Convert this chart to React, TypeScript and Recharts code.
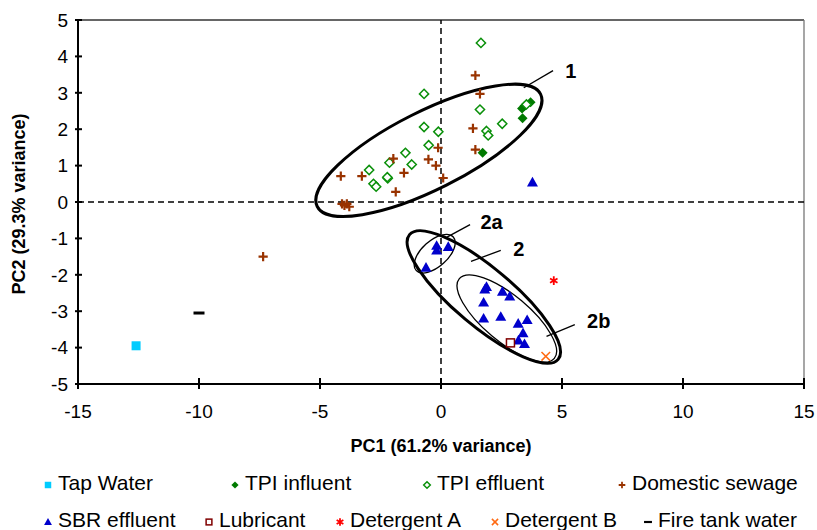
import { ScatterChart, Scatter, XAxis, YAxis, ReferenceLine, Legend } from 'recharts'

type Pt = { x: number; y: number }

const FONT = 'Liberation Sans, Arial, sans-serif'

// sample scores
const tapWater: Pt[] = [{ x: -12.6, y: -3.95 }]
const tpiInfluent: Pt[] = [
  { x: 3.7, y: 2.74 }, { x: 3.35, y: 2.57 }, { x: 3.45, y: 2.64 }, { x: 3.37, y: 2.3 }, { x: 1.72, y: 1.35 },
]
const tpiEffluent: Pt[] = [
  { x: 1.65, y: 4.37 }, { x: -0.7, y: 2.97 }, { x: 1.61, y: 2.54 }, { x: -0.7, y: 2.06 }, { x: -0.11, y: 1.93 },
  { x: 1.88, y: 1.95 }, { x: 1.95, y: 1.83 }, { x: 2.53, y: 2.15 }, { x: 3.53, y: 2.68 }, { x: -0.51, y: 1.56 },
  { x: -1.47, y: 1.35 }, { x: -1.21, y: 1.03 }, { x: -2.13, y: 1.08 }, { x: -2.97, y: 0.88 }, { x: -2.2, y: 0.65 },
  { x: -2.22, y: 0.68 }, { x: -2.79, y: 0.5 }, { x: -2.68, y: 0.42 },
]
const domesticSewage: Pt[] = [
  { x: 1.42, y: 3.48 }, { x: 1.61, y: 2.97 }, { x: 1.32, y: 2.02 }, { x: 1.42, y: 1.44 }, { x: -0.12, y: 1.49 },
  { x: -0.52, y: 1.17 }, { x: -0.21, y: 1.0 }, { x: 0.09, y: 0.66 }, { x: -1.53, y: 0.8 }, { x: -1.97, y: 1.19 },
  { x: -1.87, y: 0.28 }, { x: -3.27, y: 0.71 }, { x: -4.14, y: 0.71 }, { x: -4.09, y: -0.05 }, { x: -3.89, y: -0.05 },
  { x: -3.79, y: -0.13 }, { x: -3.99, y: -0.09 }, { x: -7.35, y: -1.5 },
]
const sbrEffluent: Pt[] = [
  { x: 3.78, y: 0.54 }, { x: -0.18, y: -1.2 }, { x: -0.18, y: -1.33 }, { x: 0.3, y: -1.23 }, { x: -0.62, y: -1.8 },
  { x: 1.88, y: -2.33 }, { x: 1.81, y: -2.4 }, { x: 2.54, y: -2.46 }, { x: 2.84, y: -2.59 }, { x: 1.76, y: -2.76 },
  { x: 1.76, y: -3.2 }, { x: 2.47, y: -3.15 }, { x: 3.19, y: -3.34 }, { x: 3.56, y: -3.24 }, { x: 3.39, y: -3.6 },
  { x: 3.2, y: -3.8 }, { x: 3.45, y: -3.9 },
]
const lubricant: Pt[] = [{ x: 2.87, y: -3.87 }]
const detergentA: Pt[] = [{ x: 4.66, y: -2.16 }]
const detergentB: Pt[] = [{ x: 4.33, y: -4.24 }]
const fireTankWater: Pt[] = [{ x: -10, y: -3.05 }]

const xTicks = [-15, -10, -5, 0, 5, 10, 15]
const yTicks = [5, 4, 3, 2, 1, 0, -1, -2, -3, -4, -5]

// cluster ellipses (centres in PC units) and their labels
const clusters = [
  { name: '1', x: -0.5, y: 1.42 },
  { name: '2', x: 1.77, y: -2.61 },
  { name: '2a', x: -0.26, y: -1.42 },
  { name: '2b', x: 2.72, y: -3.2 },
]
const clusterLabels = [
  { name: '1', x: 5.36, y: 3.61 },
  { name: '2a', x: 2.09, y: -0.54 },
  { name: '2', x: 3.22, y: -1.28 },
  { name: '2b', x: 6.52, y: -3.28 },
]
const leaders = [
  [{ x: 3.42, y: 3.14 }, { x: 4.63, y: 3.61 }],
  [{ x: 0.21, y: -0.98 }, { x: 1.2, y: -0.62 }],
  [{ x: 1.24, y: -1.63 }, { x: 2.47, y: -1.33 }],
  [{ x: 4.36, y: -3.69 }, { x: 5.53, y: -3.37 }],
]

const ellipseLook: Record<string, { rx: number; ry: number; angle: number; w: number }> = {
  '1': { rx: 125, ry: 39, angle: -26.7, w: 3 },
  '2': { rx: 97, ry: 29, angle: 40, w: 3 },
  '2a': { rx: 25, ry: 13, angle: -42, w: 1.3 },
  '2b': { rx: 62, ry: 23, angle: 40, w: 1.3 },
}

type Kind = 'tap' | 'tpiIn' | 'tpiEff' | 'sewage' | 'sbr' | 'lub' | 'detA' | 'detB' | 'fire'

function Marker({ kind, cx, cy, s = 1 }: { kind: Kind; cx: number; cy: number; s?: number }) {
  switch (kind) {
    case 'tap':
      return <rect x={cx - 4.5 * s} y={cy - 4.5 * s} width={9 * s} height={9 * s} fill="#00CCFF" />
    case 'tpiIn': {
      const r = 5 * s
      return <polygon points={`${cx},${cy - r} ${cx + r},${cy} ${cx},${cy + r} ${cx - r},${cy}`} fill="#007A00" />
    }
    case 'tpiEff': {
      const r = 4.6 * s
      return (
        <polygon
          points={`${cx},${cy - r} ${cx + r},${cy} ${cx},${cy + r} ${cx - r},${cy}`}
          fill="#fff"
          stroke="#0A900A"
          strokeWidth={1.5}
        />
      )
    }
    case 'sewage': {
      const r = 4.6 * s
      return (
        <path
          d={`M${cx - r},${cy} H${cx + r} M${cx},${cy - r} V${cy + r}`}
          stroke="#993300"
          strokeWidth={2.2 * Math.max(s, 0.8)}
        />
      )
    }
    case 'sbr': {
      const r = 5.5 * s
      return <polygon points={`${cx},${cy - r} ${cx + r},${cy + r * 0.75} ${cx - r},${cy + r * 0.75}`} fill="#0000CC" />
    }
    case 'lub':
      return (
        <rect x={cx - 4 * s} y={cy - 4 * s} width={8 * s} height={8 * s} fill="#fff" stroke="#800000" strokeWidth={1.5} />
      )
    case 'detA': {
      const r = 4.3 * Math.max(s, 0.9)
      const dx = r * 0.87
      const dy = r * 0.5
      return (
        <path
          d={`M${cx},${cy - r} V${cy + r} M${cx - dx},${cy - dy} L${cx + dx},${cy + dy} M${cx - dx},${cy + dy} L${cx + dx},${cy - dy}`}
          stroke="#FF0000"
          strokeWidth={1.8}
        />
      )
    }
    case 'detB': {
      const r = 4.3 * s
      return (
        <path
          d={`M${cx - r},${cy - r} L${cx + r},${cy + r} M${cx - r},${cy + r} L${cx + r},${cy - r}`}
          stroke="#FF6A13"
          strokeWidth={1.5}
        />
      )
    }
    case 'fire':
      return <rect x={cx - 5.5 * s} y={cy - 1.5 * s} width={11 * s} height={3 * s} fill="#000" />
  }
}

const series: { name: string; kind: Kind; data: Pt[] }[] = [
  { name: 'Tap Water', kind: 'tap', data: tapWater },
  { name: 'TPI influent', kind: 'tpiIn', data: tpiInfluent },
  { name: 'TPI effluent', kind: 'tpiEff', data: tpiEffluent },
  { name: 'Domestic sewage', kind: 'sewage', data: domesticSewage },
  { name: 'SBR effluent', kind: 'sbr', data: sbrEffluent },
  { name: 'Lubricant', kind: 'lub', data: lubricant },
  { name: 'Detergent A', kind: 'detA', data: detergentA },
  { name: 'Detergent B', kind: 'detB', data: detergentB },
  { name: 'Fire tank water', kind: 'fire', data: fireTankWater },
]

// legend layout: [marker x, row]
const legendPos: Record<string, [number, number]> = {
  'Tap Water': [48, 0],
  'TPI influent': [235, 0],
  'TPI effluent': [427, 0],
  'Domestic sewage': [622, 0],
  'SBR effluent': [48, 1],
  Lubricant: [209, 1],
  'Detergent A': [340, 1],
  'Detergent B': [495, 1],
  'Fire tank water': [648, 1],
}

const LEGEND_TOP = 450
const rowY = [485, 522]
const textY = [483.3, 520]

function renderLegend() {
  return (
    <div style={{ position: 'relative', width: 817, height: 80, fontFamily: FONT }}>
      {series.map((s) => {
        const [mx, row] = legendPos[s.name]
        return (
          <div key={s.name}>
            <svg
              width={16}
              height={16}
              style={{ position: 'absolute', left: mx - 8, top: rowY[row] - LEGEND_TOP - 8, overflow: 'visible' }}
            >
              <Marker kind={s.kind} cx={8} cy={8} s={0.72} />
            </svg>
            <span
              style={{
                position: 'absolute',
                left: mx + 10,
                top: textY[row] - LEGEND_TOP - 12,
                height: 24,
                lineHeight: '24px',
                fontSize: 21,
                color: '#000',
                whiteSpace: 'nowrap',
              }}
            >
              {s.name}
            </span>
          </div>
        )
      })}
    </div>
  )
}

const XTick = (p: any) => (
  <g>
    <line x1={p.x} x2={p.x} y1={p.y - 6} y2={p.y + 5} stroke="#000" strokeWidth={2} />
    <text x={p.x} y={p.y + 34} textAnchor="middle" fontSize={19} fontFamily={FONT} fill="#000">
      {p.payload.value}
    </text>
  </g>
)

const YTick = (p: any) => (
  <g>
    <line x1={p.x - 3} x2={p.x + 4} y1={p.y} y2={p.y} stroke="#000" strokeWidth={2} />
    <text x={p.x - 10} y={p.y} dy="0.36em" textAnchor="end" fontSize={19} fontFamily={FONT} fill="#000">
      {p.payload.value}
    </text>
  </g>
)

const AxisTitle = ({ tx, ty, rot = 0, text }: { tx: number; ty: number; rot?: number; text: string }) => (
  <g transform={`translate(${tx} ${ty}) rotate(${rot})`}>
    <text
      x={0}
      y={0}
      textAnchor="middle"
      dominantBaseline="central"
      fontSize={18}
      fontWeight="bold"
      fontFamily={FONT}
      fill="#000"
    >
      {text}
    </text>
  </g>
)

export default function App() {
  return (
    <div style={{ position: 'absolute', left: 0, top: 0, background: '#fff' }}>
      <ScatterChart width={817} height={530} margin={{ top: 20, right: 13, bottom: 0, left: 0 }}>
        <XAxis
          type="number"
          dataKey="x"
          domain={[-15, 15]}
          ticks={xTicks}
          interval={0}
          allowDataOverflow
          height={66}
          tickSize={0}
          tickMargin={0}
          tickLine={false}
          axisLine={{ stroke: '#000', strokeWidth: 2 }}
          tick={<XTick />}
          label={<AxisTitle tx={441} ty={446} text="PC1 (61.2% variance)" />}
        />
        <YAxis
          type="number"
          dataKey="y"
          domain={[-5, 5]}
          ticks={yTicks}
          interval={0}
          allowDataOverflow
          width={78}
          tickSize={0}
          tickMargin={0}
          tickLine={false}
          axisLine={{ stroke: '#000', strokeWidth: 2 }}
          tick={<YTick />}
          label={<AxisTitle tx={19} ty={204} rot={-90} text="PC2 (29.3% variance)" />}
        />
        <ReferenceLine y={5} stroke="#333" strokeWidth={1.3} />
        <ReferenceLine x={15} stroke="#777" strokeWidth={1.3} />
        <ReferenceLine x={0} stroke="#000" strokeWidth={1.5} strokeDasharray="6 4" />
        <ReferenceLine y={0} stroke="#000" strokeWidth={1.5} strokeDasharray="6 4" />
        {leaders.map((seg, i) => (
          <ReferenceLine key={i} segment={seg} stroke="#000" strokeWidth={1.3} />
        ))}
        <Scatter
          name="clusters"
          data={clusters}
          legendType="none"
          isAnimationActive={false}
          shape={(p: any) => {
            const e = ellipseLook[p.payload.name]
            return (
              <ellipse
                cx={p.cx}
                cy={p.cy}
                rx={e.rx}
                ry={e.ry}
                transform={`rotate(${e.angle} ${p.cx} ${p.cy})`}
                fill="none"
                stroke="#000"
                strokeWidth={e.w}
              />
            )
          }}
        />
        <Scatter
          name="labels"
          data={clusterLabels}
          legendType="none"
          isAnimationActive={false}
          shape={(p: any) => (
            <text
              x={p.cx}
              y={p.cy}
              textAnchor="middle"
              dominantBaseline="central"
              fontSize={20}
              fontWeight="bold"
              fontFamily={FONT}
              fill="#000"
            >
              {p.payload.name}
            </text>
          )}
        />
        {series.map((s) => (
          <Scatter
            key={s.name}
            name={s.name}
            data={s.data}
            isAnimationActive={false}
            shape={(p: any) => <Marker kind={s.kind} cx={p.cx} cy={p.cy} />}
          />
        ))}
        <Legend
          verticalAlign="bottom"
          content={renderLegend}
          wrapperStyle={{ left: 0, bottom: 0, width: 817, height: 80 }}
        />
      </ScatterChart>
    </div>
  )
}
